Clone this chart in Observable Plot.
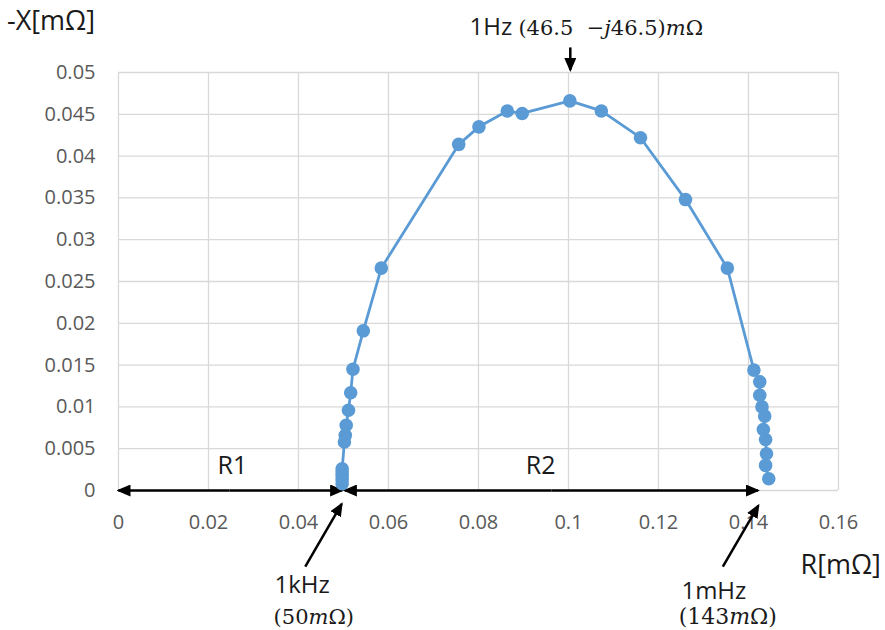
<!DOCTYPE html>
<html><head><meta charset="utf-8">
<script src="https://cdn.jsdelivr.net/npm/d3@7"></script>
<script src="https://cdn.jsdelivr.net/npm/@observablehq/plot@0.6"></script>
<style>body{margin:0;background:#fff;font-family:"Open Sans",sans-serif}</style>
</head><body><div id="chart"></div>
<script>
// Impedance data: real part R and negative reactance -X (both in the axes' units)
const rValues = [0.0497,0.0497,0.0497,0.0497,0.0497,0.0502,0.0504,0.0506,0.0511,0.0516,0.0521,0.0544,0.0584,0.0756,0.0801,0.0864,0.0897,0.1003,0.1073,0.1160,0.1260,0.1353,0.1412,0.1425,0.1425,0.1430,0.1436,0.1433,0.1438,0.1440,0.1438,0.1445];
const xValues = [0.0008,0.0013,0.0018,0.0022,0.0026,0.0058,0.0066,0.0078,0.0096,0.0117,0.0145,0.0191,0.0266,0.0414,0.0435,0.0454,0.0451,0.0466,0.0454,0.0422,0.0348,0.0266,0.0144,0.0130,0.0114,0.0100,0.0089,0.0073,0.0061,0.0044,0.0030,0.0014];
const xTicks = [0,0.02,0.04,0.06,0.08,0.1,0.12,0.14,0.16];
const yTicks = [0,0.005,0.01,0.015,0.02,0.025,0.03,0.035,0.04,0.045,0.05];

const points = rValues.map((r, i) => ({r, x: xValues[i]}));

// Annotations (in data coordinates)
const spanArrows = [
  {x1: 0.0247, x2: 0.0, y: 0},      // R1 left half
  {x1: 0.0247, x2: 0.0497, y: 0},   // R1 right half
  {x1: 0.0962, x2: 0.0503, y: 0},   // R2 left half
  {x1: 0.0962, x2: 0.1421, y: 0}    // R2 right half
];
const pointerArrows = [
  {x1: 0.1004, y1: 0.0530, x2: 0.1004, y2: 0.0503},
  {x1: 0.0415, y1: -0.0091, x2: 0.0496, y2: -0.0016},
  {x1: 0.1343, y1: -0.0091, x2: 0.1422, y2: -0.0018}
];
const plainLabels = [
  {t: "R1", x: 0.0253, y: 0.0029, size: 25},
  {t: "R2", x: 0.0938, y: 0.0029, size: 25},
  {t: "1kHz", x: 0.0408, y: -0.0114, size: 24},
  {t: "1mHz", x: 0.1323, y: -0.0121, size: 24},
  {t: "R[mΩ]", x: 0.1605, y: -0.0089, size: 27},
  {t: "-X[mΩ]", x: -0.0150, y: 0.0561, size: 27}
];
const topLabel = [
  {t: "1Hz (46.5  −j46.5)mΩ", x: 0.0780, y: 0.0553,
   parts: [["1Hz ", "s", 24], ["(46.5  −", "r", 21], ["j", "i", 21], ["46.5)", "r", 21], ["m", "i", 21], ["Ω", "r", 21]]}
];
const bottomLabels = [
  {t: "(50mΩ)", x: 0.0434, y: -0.0152,
   parts: [["(50", "r", 21], ["m", "i", 21], ["Ω)", "r", 21]]},
  {t: "(143mΩ)", x: 0.1354, y: -0.0152,
   parts: [["(143", "r", 22], ["m", "i", 22], ["Ω)", "r", 22]]}
];

const blue = "#5b9bd5";
const ARROW = "#010101";
const svg = Plot.plot({
  width: 885, height: 630,
  marginLeft: 118, marginRight: 47, marginTop: 72, marginBottom: 140,
  style: {fontFamily: "'Open Sans', sans-serif", background: "#fff", overflow: "visible"},
  x: {domain: [0, 0.16], ticks: xTicks, tickSize: 0, tickPadding: 24, tickFormat: d3.format("~g"), label: null},
  y: {domain: [0, 0.05], ticks: yTicks, tickSize: 0, tickPadding: 23, tickFormat: d3.format("~g"), label: null},
  marks: [
    Plot.gridX(xTicks, {stroke: "#d9d9d9", strokeOpacity: 1, strokeWidth: 1.3}),
    Plot.gridY(yTicks, {stroke: "#d9d9d9", strokeOpacity: 1, strokeWidth: 1.3}),
    Plot.link(spanArrows, {x1: "x1", y1: "y", x2: "x2", y2: "y", stroke: ARROW, strokeWidth: 2.5}),
    Plot.line(points, {x: "r", y: "x", stroke: blue, strokeWidth: 2.8}),
    Plot.dot(points, {x: "r", y: "x", r: 6.8, fill: blue, stroke: "none"}),
    Plot.link(pointerArrows, {x1: "x1", y1: "y1", x2: "x2", y2: "y2", stroke: ARROW, strokeWidth: 2.5}),
    Plot.text(plainLabels, {x: "x", y: "y", text: "t", fontSize: "size", fill: "#1a1a1a", textAnchor: "middle", lineAnchor: "middle"}),
    Plot.text(topLabel, {x: "x", y: "y", text: "t", fontSize: 20, fill: "#1a1a1a", textAnchor: "start", lineAnchor: "middle"}),
    Plot.text(bottomLabels, {x: "x", y: "y", text: "t", fontSize: 21, fill: "#1a1a1a", textAnchor: "middle", lineAnchor: "middle"})
  ]
});

const root = d3.select(svg);
// tick label styling
root.selectAll("g[aria-label='x-axis tick label'], g[aria-label='y-axis tick label']")
  .attr("font-size", 20).attr("fill", "#595959");
root.selectAll("g[aria-label='x-axis tick label'] text, g[aria-label='y-axis tick label'] text")
  .attr("fill", "#595959").style("font-size", "20px");

// arrowhead marker
const defs = root.insert("defs", ":first-child");
defs.append("marker").attr("id", "ahead")
  .attr("viewBox", "0 0 14 12").attr("refX", 12).attr("refY", 6)
  .attr("markerUnits", "userSpaceOnUse").attr("markerWidth", 14).attr("markerHeight", 12)
  .attr("orient", "auto")
  .append("path").attr("d", "M0,0L14,6L0,12Z").attr("fill", "#000");
root.selectAll(`g[stroke='${ARROW}'] path, path[stroke='${ARROW}'], g[stroke='${ARROW}'] line`)
  .attr("marker-end", "url(#ahead)").attr("stroke", "#000");

// mixed-font labels
const fam = {
  s: ["'Open Sans', sans-serif", "normal"],
  r: ["'DejaVu Serif', serif", "normal"],
  i: ["'DejaVu Serif', serif", "italic"]
};
const rich = topLabel.concat(bottomLabels);
root.selectAll("text").each(function() {
  const lab = rich.find(l => l.t === this.textContent);
  if (!lab) return;
  const el = d3.select(this);
  el.text(null).style("white-space", "pre");
  lab.parts.forEach(([s, k, size]) => {
    el.append("tspan").text(s)
      .attr("font-family", fam[k][0]).attr("font-style", fam[k][1])
      .attr("font-size", size).style("white-space", "pre");
  });
});

document.getElementById("chart").appendChild(svg);
</script>
</body></html>
